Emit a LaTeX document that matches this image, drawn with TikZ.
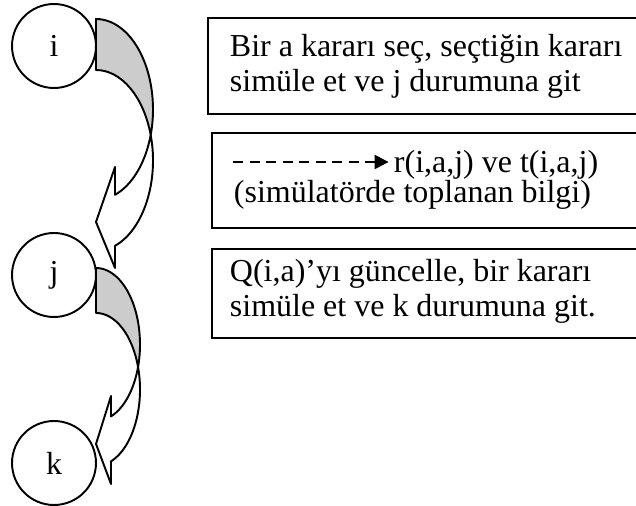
\documentclass[tikz,border=0pt]{standalone}
\usepackage{fontspec}
\setmainfont{Liberation Serif}
\usetikzlibrary{positioning,arrows.meta}

\definecolor{kabukgri}{RGB}{204,204,204}

\begin{document}
\begin{tikzpicture}[x=0.02cm,y=0.02cm,line width=1.1pt]
        %
        % `durum' is used for the states i, j, k.
        % `kutu' is used for the boxes on the right.
        % `yazi' is used for the text in the boxes (anchored on the last line).
        \tikzstyle{durum} = [draw,fill=white,shape=circle,minimum size=1.68cm,inner sep=0pt,font=\fontsize{18.2}{19.9}\selectfont]
        \tikzstyle{kutu} = [draw,anchor=north west,minimum width=9cm,inner sep=0pt]
        \tikzstyle{yazi} = [anchor=base west,inner sep=0pt,align=left,font=\fontsize{18.2}{20.2}\selectfont]
        \tikzstyle{kavis} = [draw=black,line join=round]
        \useasboundingbox (0,0) rectangle (636,-506);
        %
        % States
        \node[durum] (i) at (54,-46) {i};
        \node[durum] (j) at (54,-275) {j};
        \node[durum] (k) at (54,-463) {k};
        %
        % Curved arrow i -> j
        \path[kavis,fill=kabukgri] (96,-19) arc[start angle=90,end angle=-16.37,x radius=57,y radius=90.5]
            arc[start angle=16.37,end angle=90,x radius=57,y radius=90.5] -- cycle;
        \path[kavis,fill=white] (150.69,-135) arc[start angle=-16.37,end angle=-70.53,x radius=57,y radius=90.5]
            -- (115,-167) -- (96,-222) -- (115,-268) -- (115,-245.8)
            arc[start angle=-70.53,end angle=16.37,x radius=57,y radius=90.5] -- cycle;
        %
        % Curved arrow j -> k
        \path[kavis,fill=kabukgri] (96,-268) arc[start angle=90,end angle=-17.10,x radius=44,y radius=76.5]
            arc[start angle=17.10,end angle=90,x radius=44,y radius=76.5] -- cycle;
        \path[kavis,fill=white] (138.05,-367) arc[start angle=-17.10,end angle=-70.07,x radius=44,y radius=76.5]
            -- (111,-396) -- (96,-444) -- (111,-484) -- (111,-461.4)
            arc[start angle=-70.07,end angle=17.10,x radius=44,y radius=76.5] -- cycle;
        %
        % Box 1
        \node[kutu,minimum height=1.92cm] (kutu1) at (207,-17) {};
        \node[yazi] (secim) at (229,-91.5) {Bir a kararı seç, seçtiğin kararı\\simüle et ve j durumuna git};
        %
        % Box 2
        \node[kutu,minimum height=1.9cm] (kutu2) at (211,-132) {};
        \coordinate (okbas) at (233,-162);
        \node[yazi] (rt) at (393,-173) {r(i,a,j) ve t(i,a,j)};
        \node[yazi] (bilgi) at (233,-203) {(simülatörde toplanan bilgi)};
        \draw[line width=1.4pt,dash pattern=on 5.7pt off 3.7pt,shorten >=2.5pt,-{Triangle[length=8pt,width=8pt]}] (okbas) -- (okbas -| rt.west);
        %
        % Box 3
        \node[kutu,minimum height=1.78cm] (kutu3) at (211,-248) {};
        \node[yazi] (guncel) at (229,-316.5) {Q(i,a)’yı güncelle, bir kararı\\simüle et ve k durumuna git.};
        %
    \end{tikzpicture}
\end{document}
